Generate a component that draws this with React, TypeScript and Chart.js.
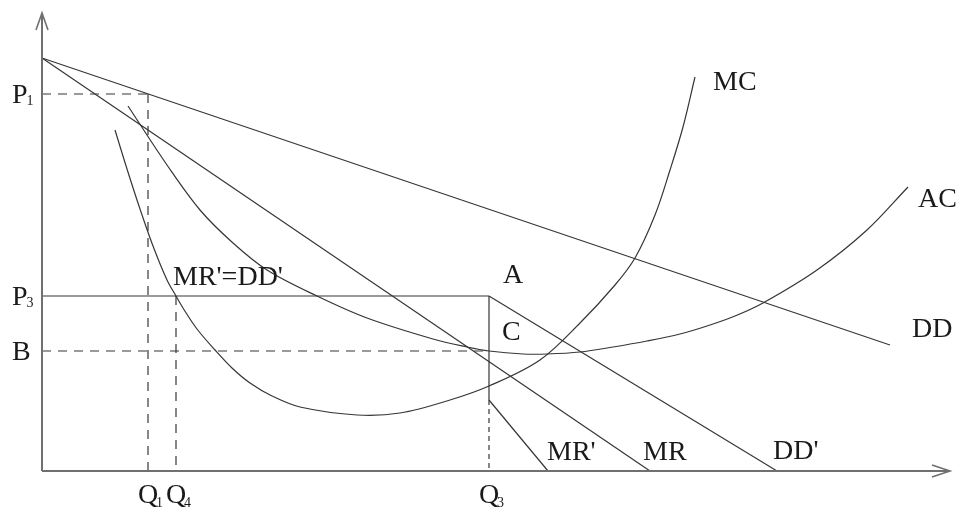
import { useEffect, useRef } from "react";
import { Chart, registerables } from "chart.js";
Chart.register(...registerables);

// Key price / quantity levels
const P1 = 377;
const P3 = 175;
const B = 120;
const Q1 = 106;
const Q4 = 134;
const Q3 = 447;
const X_MAX = 908;
const Y_MAX = 458;

// Straight demand / revenue lines
const ddX = [0, 848];
const ddY = [413, 126];
const mrX = [0, 608];
const mrY = [413, 0];
const ddPrimeX = [Q3, 735];
const ddPrimeY = [P3, 0];
const mrPrimeX = [Q3, 506];
const mrPrimeY = [71, 0];

// Average cost curve
const acX = [86, 125, 158, 191, 225, 275, 325, 391, 425, 447, 481, 505, 538, 571, 605, 638, 665, 693, 721, 775, 825, 866];
const acY = [365, 306, 261, 228, 201, 175, 153, 132, 124, 120, 117, 117, 119, 124, 130, 137, 145, 155, 168, 201, 241, 284];

// Marginal cost curve
const mcX = [73, 85, 98, 111, 125, 134, 141, 155, 173, 190, 208, 230, 258, 315, 358, 408, 447, 498, 538, 573, 593, 613, 628, 641, 653];
const mcY = [341, 302, 262, 225, 191, 175, 163, 142, 121, 103, 88, 75, 64, 56, 58, 71, 85, 111, 148, 186, 213, 256, 301, 344, 394];

// Axis tick labels (base + subscript)
const yTickLabels = [
  { base: "P", sub: "1", value: P1 },
  { base: "P", sub: "3", value: P3 },
  { base: "B", sub: "", value: B },
];
const xTickLabels = [
  { base: "Q", sub: "1", value: Q1 },
  { base: "Q", sub: "4", value: Q4 },
  { base: "Q", sub: "3", value: Q3 },
];

// Curve labels: text, anchor (data coords, left/baseline)
const curveLabels = [
  { text: "MC", x: 671, y: 381 },
  { text: "AC", x: 876, y: 264 },
  { text: "DD", x: 870, y: 134 },
  { text: "DD'", x: 731, y: 12 },
  { text: "MR", x: 601, y: 11 },
  { text: "MR'", x: 505, y: 11 },
  { text: "A", x: 461, y: 188 },
  { text: "C", x: 460, y: 131 },
  { text: "MR'=DD'", x: 131, y: 186 },
];

const zip = (xs: number[], ys: number[]) => xs.map((x, i) => ({ x, y: ys[i] }));

const LINE = "#363636";
const AXIS = "#707070";
const FONT = "'Liberation Serif', 'DejaVu Serif', serif";

export default function App() {
  const ref = useRef<HTMLCanvasElement>(null);
  useEffect(() => {
    if (!ref.current) return;
    const solid = (data: { x: number; y: number }[], extra: any = {}) => ({
      data,
      borderColor: LINE,
      borderWidth: 1.2,
      pointRadius: 0,
      showLine: true,
      fill: false,
      clip: false,
      tension: 0,
      ...extra,
    });
    const dashed = (data: { x: number; y: number }[], dash: number[]) =>
      solid(data, { borderDash: dash, borderWidth: 1.2 });

    const overlay = {
      id: "overlay",
      afterDatasetsDraw(chart: any) {
        const ctx = chart.ctx as CanvasRenderingContext2D;
        const xs = chart.scales.x;
        const ys = chart.scales.y;
        const px = (v: number) => xs.getPixelForValue(v);
        const py = (v: number) => ys.getPixelForValue(v);
        ctx.save();
        // arrow heads
        ctx.strokeStyle = AXIS;
        ctx.lineWidth = 1.6;
        const ox = px(0), topY = py(Y_MAX);
        ctx.beginPath();
        ctx.moveTo(ox - 6, topY + 17);
        ctx.lineTo(ox, topY);
        ctx.lineTo(ox + 6, topY + 17);
        ctx.stroke();
        const oy = py(0), rightX = px(X_MAX);
        ctx.beginPath();
        ctx.moveTo(rightX - 18, oy - 6);
        ctx.lineTo(rightX, oy);
        ctx.lineTo(rightX - 18, oy + 6);
        ctx.stroke();

        ctx.fillStyle = "#1a1a1a";
        ctx.textBaseline = "alphabetic";
        // y tick labels
        for (const t of yTickLabels) {
          const y = py(t.value);
          ctx.font = `28px ${FONT}`;
          ctx.textAlign = "left";
          ctx.fillText(t.base, 12, y + 9);
          const w = ctx.measureText(t.base).width;
          if (t.sub) {
            ctx.font = `14px ${FONT}`;
            ctx.fillText(t.sub, 11 + w, y + 11);
          }
        }
        // x tick labels
        for (const t of xTickLabels) {
          const x = px(t.value);
          ctx.font = `28px ${FONT}`;
          ctx.textAlign = "left";
          const w = ctx.measureText(t.base).width;
          ctx.fillText(t.base, x - w / 2, oy + 32);
          if (t.sub) {
            ctx.font = `14px ${FONT}`;
            ctx.fillText(t.sub, x + w / 2 - 2, oy + 36);
          }
        }
        // curve labels
        ctx.font = `28px ${FONT}`;
        ctx.textAlign = "left";
        for (const l of curveLabels) {
          ctx.fillText(l.text, px(l.x), py(l.y));
        }
        ctx.restore();
      },
    };

    const chart = new Chart(ref.current, {
      type: "scatter",
      data: {
        datasets: [
          // axes
          solid(zip([0, X_MAX], [0, 0]), { borderColor: AXIS, borderWidth: 2 }),
          solid(zip([0, 0], [0, Y_MAX]), { borderColor: AXIS, borderWidth: 2 }),
          // demand & revenue
          solid(zip(ddX, ddY)),
          solid(zip(mrX, mrY)),
          solid(zip(ddPrimeX, ddPrimeY)),
          solid(zip(mrPrimeX, mrPrimeY)),
          // P3 line and Q3 solid segment
          solid(zip([0, Q3], [P3, P3])),
          solid(zip([Q3, Q3], [P3, mrPrimeY[0]])),
          // dashed guides
          dashed(zip([0, Q1], [P1, P1]), [9, 7]),
          dashed(zip([Q1, Q1], [P1, 0]), [9, 7]),
          dashed(zip([Q4, Q4], [P3, 0]), [9, 7]),
          dashed(zip([0, Q3], [B, B]), [9, 7]),
          dashed(zip([Q3, Q3], [mrPrimeY[0], 0]), [5, 4]),
          // cost curves
          solid(zip(acX, acY), { tension: 0.35 }),
          solid(zip(mcX, mcY), { tension: 0.35 }),
        ],
      },
      options: {
        animation: false,
        responsive: false,
        layout: { padding: { left: 42, right: 10, top: 13, bottom: 37 } },
        plugins: { legend: { display: false }, tooltip: { enabled: false } },
        scales: {
          x: { type: "linear", min: 0, max: X_MAX, display: false },
          y: { type: "linear", min: 0, max: Y_MAX, display: false },
        },
      },
      plugins: [overlay],
    } as any);
    return () => chart.destroy();
  }, []);
  return (
    <div style={{ position: "absolute", left: 0, top: 0, width: 960, height: 508, background: "#fff" }}>
      <canvas ref={ref} width={960} height={508} />
    </div>
  );
}
